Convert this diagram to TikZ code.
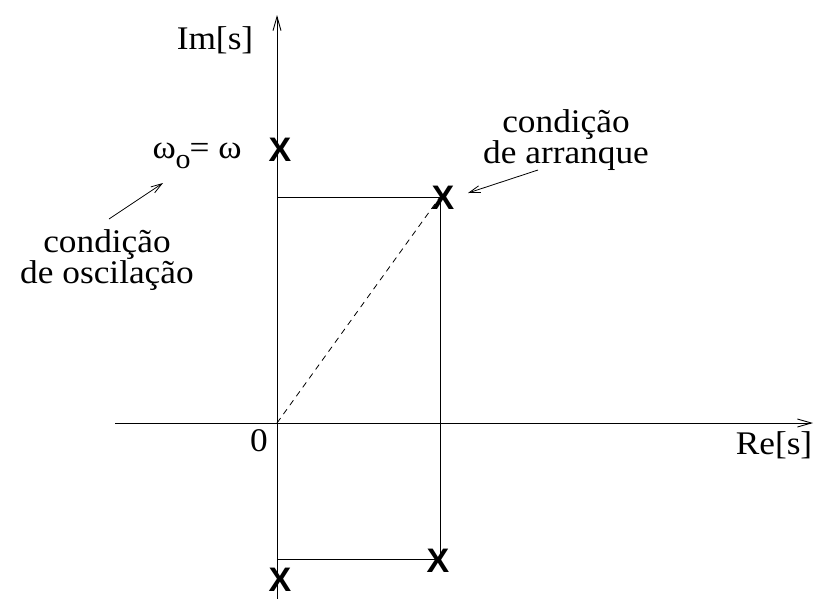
\documentclass[tikz,border=0pt]{standalone}
\usepackage{fontspec}
\setmainfont{Liberation Serif}[FakeStretch=1.07]
\newfontfamily\xfont{Liberation Sans}[BoldFont=Liberation Sans Bold]
\usetikzlibrary{arrows.meta}
\begin{document}
\begin{tikzpicture}[x=1pt,y=-1pt,
  line width=1pt,
  axisarrow/.style={-{Straight Barb[length=14pt,width=8pt,line width=0.9pt]}},
  notearrow/.style={-{Straight Barb[length=11pt,width=7pt,line width=0.8pt]}, line width=0.8pt},
  lbl/.style={font=\fontsize{33}{27}\selectfont, inner sep=0pt, anchor=base},
  pole/.style={font=\fontsize{34}{34}\selectfont\xfont\bfseries, inner sep=0pt}]
\useasboundingbox (0,0) rectangle (818,598);
% axes
\coordinate (O) at (277,423);
\coordinate (ybot) at (277,600);
\coordinate (ytop) at (277,15);
\coordinate (xleft) at (115,423);
\coordinate (xright) at (813,423);
\draw[axisarrow] (ybot) -- (ytop);
\draw[axisarrow] (xleft) -- (xright);
% rectangle
\coordinate (a) at (277,197);
\coordinate (b) at (440,197);
\coordinate (c) at (440,559);
\coordinate (d) at (277,559);
\draw (a) -- (b) -- (c) -- (d);
\draw[dashed, dash pattern=on 6pt off 5pt, line width=0.8pt] (O) -- (b);
% poles
\node[pole] (p1) at (280,150) {X};
\node[pole] (p2) at (443,198) {X};
\node[pole] (p3) at (438,561) {X};
\node[pole] (p4) at (280,580) {X};
% labels
\node[lbl] (im) at (215,49) {Im[s]};
\node[lbl] (re) at (774,454) {Re[s]};
\node[lbl] (zero) at (259,451) {0};
\node[lbl, anchor=base west] (w) at (152,158) {ω\raisebox{-10pt}{\fontsize{28}{28}\selectfont o}\hspace{-1pt}= ω};
\node[lbl, align=center] (osc) at (107,283) {condição\\de oscilação};
\node[lbl, align=center] (arr) at (566,163) {condição\\de arranque};
% annotation arrows
\coordinate (s1) at (109,219);
\coordinate (e1) at (163,183);
\coordinate (s2) at (538,170);
\coordinate (e2) at (468,193);
\draw[notearrow] (s1) -- (e1);
\draw[notearrow] (s2) -- (e2);
\end{tikzpicture}
\end{document}
